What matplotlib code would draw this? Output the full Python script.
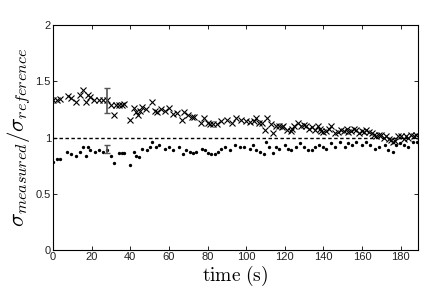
import matplotlib.pyplot as plt

plt.rcParams["mathtext.fontset"] = "cm"

# crosses (upper series)
t_up = [0, 2, 3.5, 8, 9.5, 12, 14, 15.7, 17, 18, 19, 21, 24, 26, 28, 30, 31.6, 32.5, 34, 35.5,
        37, 40, 42, 43, 44, 45, 46, 48, 51, 53, 54, 56, 58, 60, 62, 64, 67, 68, 70, 72,
        73, 76.5, 78, 80, 81.5, 83, 85, 87, 90, 92.5, 95, 97.5, 100, 102, 104, 105, 106.5, 108, 110, 111,
        113, 114, 115.5, 117, 118.5, 119, 121, 123, 124, 125, 127, 128.6, 130, 131, 132.5, 134, 135.5, 137, 138, 139,
        140, 141.5, 143, 144, 146, 147.5, 149, 150.5, 152, 153, 154.5, 156, 157, 158.5, 160, 161, 162, 163.5, 165, 166,
        167.5, 169, 170, 171.5, 172.6, 174, 175, 176, 177, 178.6, 180, 181.5, 183, 184, 185.5, 187, 188]
r_up = [1.33, 1.33, 1.34, 1.37, 1.35, 1.32, 1.38, 1.42, 1.32, 1.38, 1.36, 1.33, 1.33, 1.33, 1.33, 1.29, 1.20, 1.29, 1.29, 1.29,
        1.30, 1.16, 1.26, 1.23, 1.20, 1.24, 1.27, 1.25, 1.32, 1.24, 1.23, 1.25, 1.24, 1.26, 1.21, 1.22, 1.16, 1.23, 1.20, 1.18,
        1.18, 1.13, 1.17, 1.13, 1.12, 1.12, 1.12, 1.15, 1.16, 1.13, 1.17, 1.16, 1.15, 1.14, 1.15, 1.17, 1.13, 1.13, 1.07, 1.17,
        1.12, 1.04, 1.10, 1.10, 1.09, 1.10, 1.07, 1.06, 1.08, 1.10, 1.13, 1.10, 1.11, 1.10, 1.08, 1.09, 1.07, 1.10, 1.08, 1.06,
        1.05, 1.06, 1.08, 1.10, 1.04, 1.05, 1.07, 1.06, 1.08, 1.05, 1.06, 1.08, 1.07, 1.04, 1.06, 1.05, 1.07, 1.05, 1.04, 1.02,
        1.01, 1.02, 1.02, 1.00, 1.01, 0.99, 0.98, 0.96, 0.97, 1.01, 1.01, 0.99, 1.01, 1.00, 1.02, 1.01, 1.02]

# dots (lower series)
t_lo = [0, 2, 3.5, 7, 9.5, 12, 14, 15.7, 17, 18, 19, 21.6, 24, 26, 28, 30, 31.6, 34, 35.5, 37,
        40, 42, 43, 44.6, 46, 48.5, 50, 51.5, 53.5, 55, 58, 60, 62, 65, 67.4, 69, 71, 72.6, 74, 77,
        78.6, 80, 82, 84, 85.5, 87, 89, 91.5, 94, 96.7, 99, 102, 103.6, 105, 107, 109, 110.5, 112, 114, 115.7,
        117, 120, 121.7, 123, 126, 128, 130, 132, 134, 135.5, 137.8, 140, 141.5, 144, 146, 148.5, 151, 153, 155, 157,
        160, 162, 164, 166.5, 169, 171.7, 173.4, 176, 177.7, 179.5, 182, 184, 186.6, 188.5]
r_lo = [0.78, 0.81, 0.81, 0.87, 0.85, 0.84, 0.87, 0.92, 0.84, 0.92, 0.89, 0.87, 0.89, 0.87, 0.89, 0.84, 0.77, 0.86, 0.86, 0.86,
        0.76, 0.87, 0.84, 0.83, 0.90, 0.89, 0.92, 0.96, 0.92, 0.93, 0.90, 0.92, 0.89, 0.92, 0.85, 0.89, 0.87, 0.86, 0.87, 0.90,
        0.89, 0.86, 0.85, 0.85, 0.87, 0.90, 0.92, 0.89, 0.93, 0.92, 0.92, 0.90, 0.93, 0.89, 0.87, 0.85, 0.96, 0.92, 0.86, 0.92,
        0.90, 0.93, 0.90, 0.89, 0.92, 0.95, 0.92, 0.89, 0.89, 0.92, 0.93, 0.92, 0.90, 0.95, 0.92, 0.96, 0.92, 0.95, 0.93, 0.96,
        0.93, 0.96, 0.93, 0.90, 0.92, 0.93, 0.89, 0.87, 0.93, 0.95, 0.93, 0.92, 0.96, 0.96]

# representative error bars at t = 28 s
t_err = 28
up_err = (1.33, 0.11)
lo_err = (0.895, 0.035)

fig = plt.figure(figsize=(4.36, 2.92), dpi=100)
ax = fig.add_axes([0.1216, 0.1438, 0.8371, 0.7706])

ax.axhline(1.0, color="black", linestyle=(0, (2.5, 1.8)), linewidth=1.0, zorder=1)
ax.plot(t_up, r_up, "x", color="black", markersize=5, markeredgewidth=0.8, zorder=3)
ax.plot(t_lo, r_lo, "o", color="black", markersize=1.4, zorder=3)
for y, e in (up_err, lo_err):
    ax.errorbar([t_err], [y], yerr=[e], fmt="none", ecolor="#555555",
                elinewidth=1.2, capsize=2.5, capthick=1.0, zorder=4)

ax.set_xlim(0, 189)
ax.set_ylim(0, 2)
ax.set_xticks(range(0, 181, 20))
ax.set_yticks([0, 0.5, 1, 1.5, 2])
ax.set_yticklabels(["0", "0.5", "1", "1.5", "2"])
ax.tick_params(direction="in", top=True, right=True, length=3, width=0.6,
               labelsize=8, pad=1.5, labelcolor="#222222")
for lab in ax.get_xticklabels() + ax.get_yticklabels():
    lab.set_fontfamily("Liberation Sans")
for s in ax.spines.values():
    s.set_linewidth(0.8)

ax.set_xlabel(r"$\mathrm{time\ (s)}$", fontsize=14, labelpad=1)
ax.set_ylabel(r"$\sigma_{measured}/\sigma_{reference}$", fontsize=16.5, labelpad=1)

fig.savefig("out.png", dpi=100)
